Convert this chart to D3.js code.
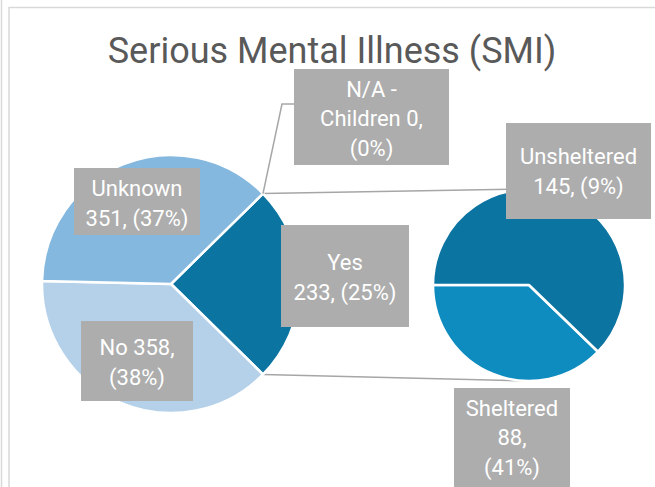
<!DOCTYPE html>
<html lang="en">
<head>
  <meta charset="UTF-8" />
  <title>Serious Mental Illness (SMI)</title>
  <style>
    body { margin: 0; background: #fff; font-family: Roboto, "Liberation Sans", sans-serif; }
    svg { display: block; }
  </style>
</head>
<body>
  <svg id="chart"></svg>

  <script src="https://d3js.org/d3.v7.min.js"></script>
  <script>
    // main pie (clockwise from the combined slice)
    const mainCats = ["Yes", "No", "Unknown", "N/A - Children"];
    const mainVals = [233, 358, 351, 0];
    const mainLabels = [["Yes", "233, (25%)"], ["No 358,", "(38%)"], ["Unknown", "351, (37%)"], ["N/A -", "Children 0,", "(0%)"]];

    // second pie breaks down "Yes"
    const subCats = ["Sheltered", "Unsheltered"];
    const subVals = [88, 145];
    const subLabels = [["Sheltered", "88,", "(41%)"], ["Unsheltered", "145, (9%)"]];

    const W = 655, H = 487;
    const svg = d3.select("#chart").attr("width", W).attr("height", H);

    // frame
    svg.append("line").attr("x1", 1.5).attr("x2", 1.5).attr("y1", 0).attr("y2", H)
      .attr("stroke", "#d9d9d9").attr("stroke-width", 1.5);
    svg.append("path").attr("d", `M9,${H} V7.5 H${W}`)
      .attr("fill", "none").attr("stroke", "#d9d9d9").attr("stroke-width", 1.5);

    svg.append("text")
      .attr("x", 332).attr("y", 63)
      .attr("text-anchor", "middle")
      .attr("font-size", 36)
      .attr("fill", "#595959")
      .text("Serious Mental Illness (SMI)");

    const color = d3.scaleOrdinal()
      .domain(["Yes", "No", "Unknown", "N/A - Children", "Sheltered", "Unsheltered"])
      .range(["#0b74a1", "#b5d1ea", "#84b8df", "#9dc3e6", "#0f8cbf", "#0b74a1"]);

    const main = { cx: 171, cy: 284, r: 129 };
    const sub = { cx: 529, cy: 285, r: 96 };

    // combined slice is centred on 3 o'clock
    const yesAngle = mainVals[0] / d3.sum(mainVals) * 2 * Math.PI;
    const mainStart = Math.PI / 2 - yesAngle / 2;
    const mainArcs = d3.pie().sort(null)
      .startAngle(mainStart).endAngle(mainStart + 2 * Math.PI)(mainVals)
      .map((a, i) => ({ ...a, cat: mainCats[i] }));

    // sheltered slice ends at 9 o'clock
    const shelAngle = subVals[0] / d3.sum(subVals) * 2 * Math.PI;
    const subStart = 1.5 * Math.PI - shelAngle;
    const subArcs = d3.pie().sort(null)
      .startAngle(subStart).endAngle(subStart + 2 * Math.PI)(subVals)
      .map((a, i) => ({ ...a, cat: subCats[i] }));

    const arcMain = d3.arc().innerRadius(0).outerRadius(main.r);
    const arcSub = d3.arc().innerRadius(0).outerRadius(sub.r);

    const pt = (c, ang) => [c.cx + c.r * Math.sin(ang), c.cy - c.r * Math.cos(ang)];

    // connector lines between the pies
    const yesArc = mainArcs[0];
    const connectors = [
      [pt(main, yesArc.startAngle), [sub.cx, sub.cy - sub.r]],
      [pt(main, yesArc.endAngle), [sub.cx, sub.cy + sub.r]]
    ];
    svg.append("g").selectAll("line").data(connectors).join("line")
      .attr("x1", d => d[0][0]).attr("y1", d => d[0][1])
      .attr("x2", d => d[1][0]).attr("y2", d => d[1][1])
      .attr("stroke", "#a6a6a6").attr("stroke-width", 1.5);

    svg.append("g").attr("transform", `translate(${main.cx},${main.cy})`)
      .selectAll("path").data(mainArcs.filter(d => d.value > 0)).join("path")
      .attr("d", arcMain)
      .attr("fill", d => color(d.cat))
      .attr("stroke", "#fff").attr("stroke-width", 2.5).attr("stroke-linejoin", "round");

    svg.append("g").attr("transform", `translate(${sub.cx},${sub.cy})`)
      .selectAll("path").data(subArcs).join("path")
      .attr("d", arcSub)
      .attr("fill", d => color(d.cat))
      .attr("stroke", "#fff").attr("stroke-width", 2.5).attr("stroke-linejoin", "round");

    // leader line for the zero slice
    const naPt = pt(main, mainArcs[3].startAngle);
    svg.append("polyline")
      .attr("points", [naPt, [282, 104], [294, 104]].map(p => p.join(",")).join(" "))
      .attr("fill", "none").attr("stroke", "#a6a6a6").attr("stroke-width", 1.5);

    // data label boxes
    const boxes = [
      { x: 281, y: 225, w: 128, h: 102, lines: mainLabels[0], ty: 262 },
      { x: 81, y: 321, w: 112, h: 80, lines: mainLabels[1], ty: 347 },
      { x: 74, y: 168, w: 126, h: 67, lines: mainLabels[2], ty: 188 },
      { x: 294, y: 69, w: 155, h: 96, lines: mainLabels[3], ty: 89 },
      { x: 454, y: 388, w: 116, h: 100, lines: subLabels[0], ty: 408 },
      { x: 506, y: 123, w: 145, h: 96, lines: subLabels[1], ty: 156 }
    ];

    const lg = svg.append("g").selectAll("g").data(boxes).join("g");
    lg.append("rect")
      .attr("x", d => d.x).attr("y", d => d.y)
      .attr("width", d => d.w).attr("height", d => d.h)
      .attr("fill", "#adadad");
    lg.each(function (d) {
      const step = d.lines.length === 3 ? 29.5 : 30;
      d3.select(this).selectAll("text").data(d.lines).join("text")
        .attr("x", d.x + d.w / 2)
        .attr("y", (t, i) => d.ty + i * step)
        .attr("dy", "0.35em")
        .attr("text-anchor", "middle")
        .attr("font-size", 22)
        .attr("fill", "#fff")
        .text(t => t);
    });
  </script>
</body>
</html>
